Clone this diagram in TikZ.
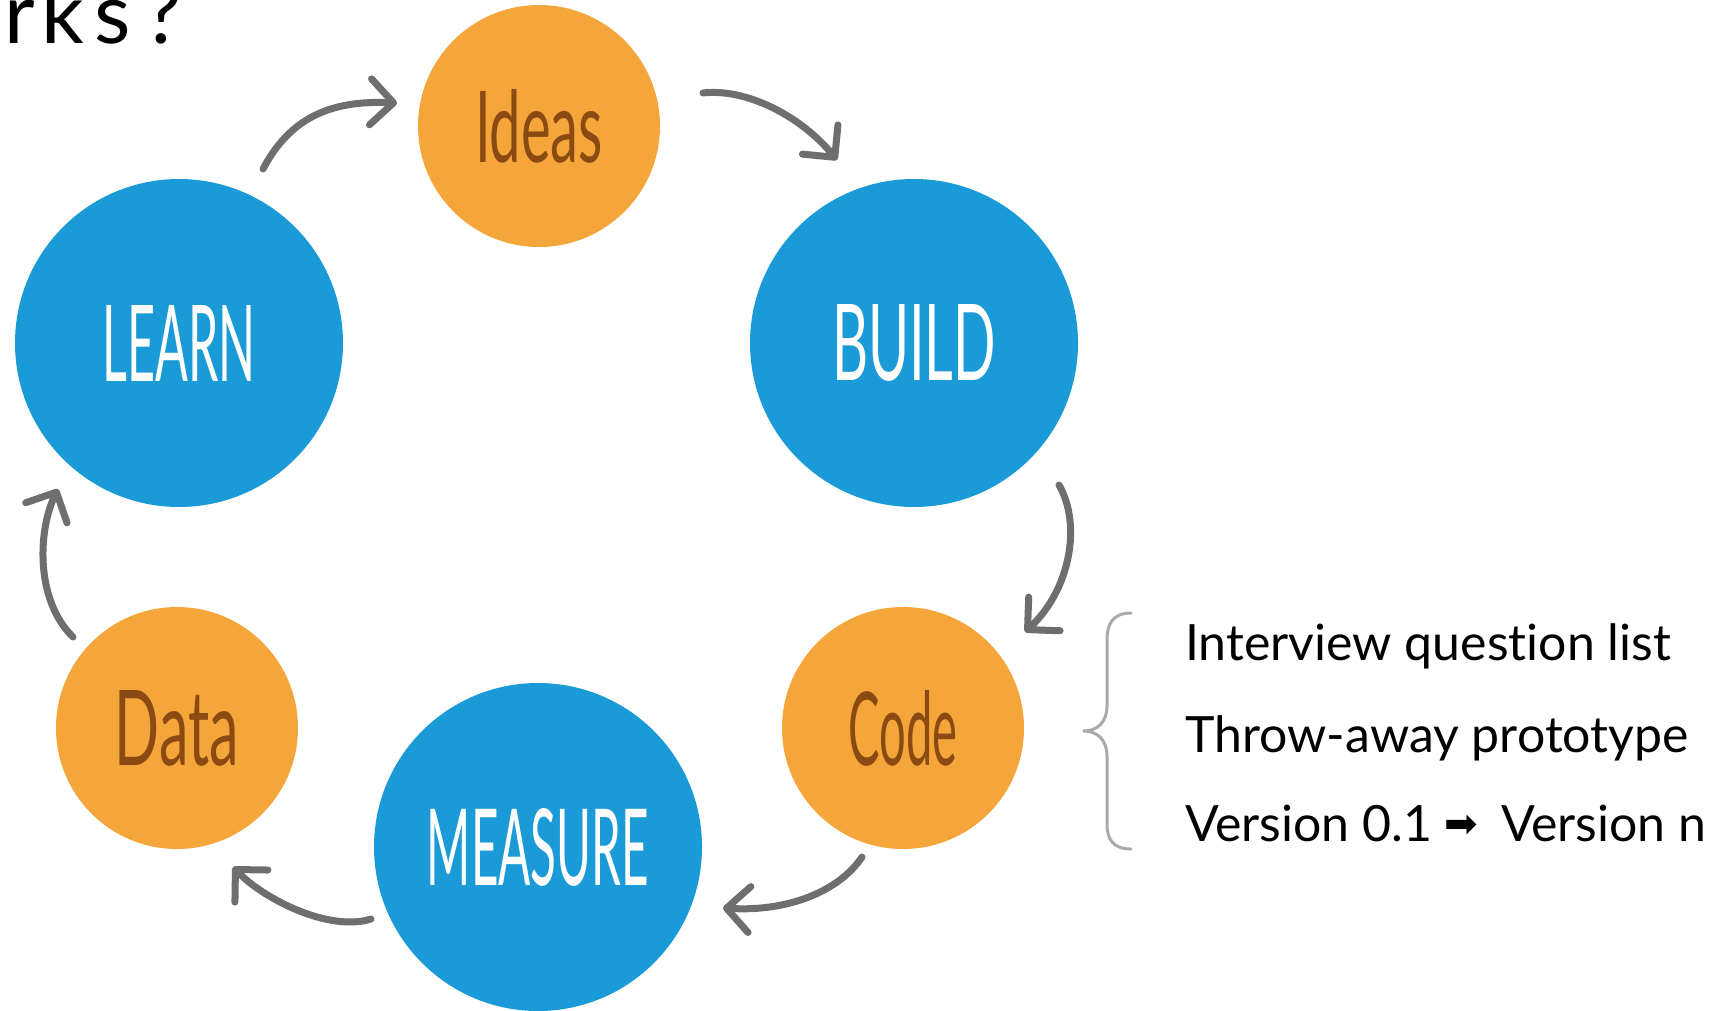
\documentclass[tikz,border=0pt]{standalone}
\usepackage{fontspec}
\setmainfont{Lato}[Ligatures=NoCommon]
\newfontfamily\dejavu{DejaVu Sans}
\usetikzlibrary{arrows.meta}
\definecolor{cblue}{HTML}{1A9BD7}
\definecolor{corange}{HTML}{F5A63B}
\definecolor{cbrown}{HTML}{8B4A12}
\definecolor{cgray}{HTML}{6E6E6E}
\definecolor{cbrace}{HTML}{AAAAAA}
\begin{document}
\begin{tikzpicture}[x=1pt,y=-1pt,
  bigc/.style={circle,fill=cblue,minimum size=328pt,inner sep=0pt,text=white},
  smallc/.style={circle,fill=corange,minimum size=242pt,inner sep=0pt,text=cbrown},
  cyc/.style={draw=cgray,line width=7pt,line cap=round,
    -{Straight Barb[length=23pt,width=46pt,line width=7pt,round]}},
  lst/.style={anchor=base west,inner sep=0pt,font=\fontsize{50}{50}\selectfont}]
\useasboundingbox (0,0) rectangle (1736,1010);

% title fragment
\node[anchor=base west,inner sep=0pt,font=\fontsize{84}{84}\selectfont] (title) at (4,43) {r\kern7pt k\kern10pt s\kern14pt ?};

% circles
\node[smallc] (ideas) at (539,126) {\resizebox{128pt}{73pt}{Ideas}};
\node[bigc] (build) at (914,343) {\resizebox{164pt}{76pt}{BUILD}};
\node[smallc] (code) at (903,728) {\resizebox{109pt}{75pt}{Code}};
\node[bigc] (measure) at (538,847) {\resizebox{222pt}{77pt}{MEASURE}};
\node[smallc] (data) at (177,728) {\resizebox{124pt}{75pt}{Data}};
\node[bigc] (learn) at (179,343) {\resizebox{153pt}{76pt}{LEARN}};

% cycle arrows
\coordinate (a1s) at (263,169); \coordinate (a1e) at (397,103);
\coordinate (a2s) at (703,93);  \coordinate (a2e) at (837,160);
\coordinate (a3s) at (1059,485); \coordinate (a3e) at (1025,632);
\coordinate (a4s) at (862,857); \coordinate (a4e) at (723,908);
\coordinate (a5s) at (371,919); \coordinate (a5e) at (233,867);
\coordinate (a6s) at (73,637);  \coordinate (a6e) at (58,489);
\draw[cyc] (a1s) .. controls (290,118) and (330,100) .. (a1e);
\draw[cyc] (a2s) .. controls (745,88) and (800,115) .. (a2e);
\draw[cyc] (a3s) .. controls (1082,525) and (1070,590) .. (a3e);
\draw[cyc] (a4s) .. controls (840,890) and (790,912) .. (a4e);
\draw[cyc] (a5s) .. controls (330,932) and (265,900) .. (a5e);
\draw[cyc] (a6s) .. controls (35,600) and (38,530) .. (a6e);

% brace
\draw[cbrace,line width=3pt,line cap=round]
  (1131,613) .. controls (1112,613) and (1107,625) .. (1107,640)
  -- (1107,705) .. controls (1107,724) and (1096,731) .. (1083,731)
  .. controls (1096,731) and (1107,738) .. (1107,757)
  -- (1107,824) .. controls (1107,838) and (1112,849) .. (1131,849);

% list
\node[lst] (l1) at (1185,660) {Interview question list};
\node[lst] (l2) at (1185,752) {Throw-away prototype};
\node[lst] (l3) at (1185,841) {Version 0.1};
\node[inner sep=0pt,font=\dejavu\fontsize{40}{40}\selectfont] (l3a) at (1461,826) {➡};
\node[lst] (l3b) at (1501,841) {Version n};
\end{tikzpicture}
\end{document}
